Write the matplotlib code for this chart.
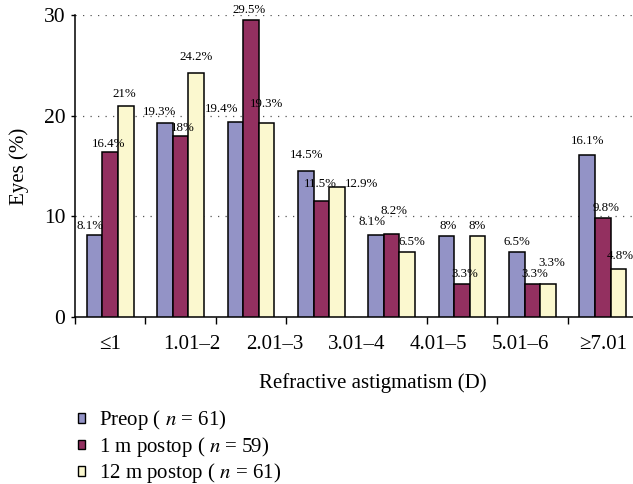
import numpy as np
import matplotlib
matplotlib.use("Agg")
import matplotlib.pyplot as plt
from matplotlib.patches import Patch

plt.rcParams['font.family'] = ['Liberation Serif', 'DejaVu Serif']
plt.rcParams['mathtext.fontset'] = 'stix'

# data (8 bar groups, 7 printed labels)
groups = 8
xlabels = ['\u22641', '1.01\u20132', '2.01\u20133', '3.01\u20134', '4.01\u20135', '5.01\u20136', '\u22657.01']
preop = [8.1, 19.3, 19.4, 14.5, 8.1, 8.0, 6.5, 16.1]
post1 = [16.4, 18.0, 29.5, 11.5, 8.2, 3.3, 3.3, 9.8]
post12 = [21.0, 24.2, 19.3, 12.9, 6.5, 8.0, 3.3, 4.8]
series_names = ['Preop ( $n$ = 61)', '1 m postop ( $n$ = 59)', '12 m postop ( $n$ = 61)']
colors = ['#9393c6', '#933060', '#fbf8cf']

# label offsets (pixels) from bar top, per series/group
offs = [
    [(-5, 9), (-5, 11), (-14, 13), (1, 16), (-4, 13), (2, 10), (0, 10), (0, 14)],
    [(-2, 8), (2, 8), (-2, 10), (-1, 17), (2, 23), (3, 10), (2, 10), (3, 10)],
    [(-1, 12), (0, 16), (0, 19), (25, 3), (5, 10), (0, 10), (4, 21), (2, 13)],
]

fig = plt.figure(figsize=(6.33, 4.84), dpi=100)
ax = fig.add_axes([75/633, 1-317/484, 563/633, 302/484])

x = np.arange(groups)
w = 0.222
allvals = [preop, post1, post12]
for k, vals in enumerate(allvals):
    xs = x + (k-1)*w
    ax.bar(xs, vals, w, color=colors[k], edgecolor='black', linewidth=1.1, zorder=3)
    for i, v in enumerate(vals):
        lab = ('%g' % v) + '%'
        ax.annotate(lab, (xs[i], v), xytext=offs[k][i], textcoords='offset pixels',
                    ha='center', va='center', fontsize=9.3, zorder=4, annotation_clip=False)

ax.set_xlim(-0.5, groups - 0.5)
ax.set_ylim(0, 30)
ax.set_yticks([0, 10, 20, 30])
ax.tick_params(axis='y', labelsize=15.5, length=3, width=1, pad=4)
ax.yaxis.grid(True, linestyle=(0, (1, 5)), color='#555555', linewidth=0.9, zorder=0)

ax.set_xticks(np.linspace(0, groups-1, len(xlabels)))
ax.set_xticklabels(xlabels)
ax.set_xticks(np.arange(groups+1) - 0.5, minor=True)
ax.tick_params(axis='x', which='major', length=0, labelsize=15, pad=13)
ax.tick_params(axis='x', which='minor', length=5, width=1, direction='out')

for s in ['top', 'right']:
    ax.spines[s].set_visible(False)
ax.spines['left'].set_linewidth(1.1)
ax.spines['bottom'].set_linewidth(1.1)

ax.set_ylabel('Eyes (%)', fontsize=15)
ax.yaxis.set_label_coords(-0.082, 0.5)
ax.set_xlabel('Refractive astigmatism (D)', fontsize=15)
ax.xaxis.set_label_coords(0.529, -0.185)

handles = [Patch(facecolor=c, edgecolor='black', linewidth=1) for c in colors]
fig.legend(handles, series_names, loc='upper left', bbox_to_anchor=(70/633, 1-400/484),
           frameon=False, fontsize=15, handlelength=0.32, handleheight=0.32,
           handletextpad=0.65, labelspacing=0.12, borderaxespad=0)

fig.savefig('out.png', dpi=100)
